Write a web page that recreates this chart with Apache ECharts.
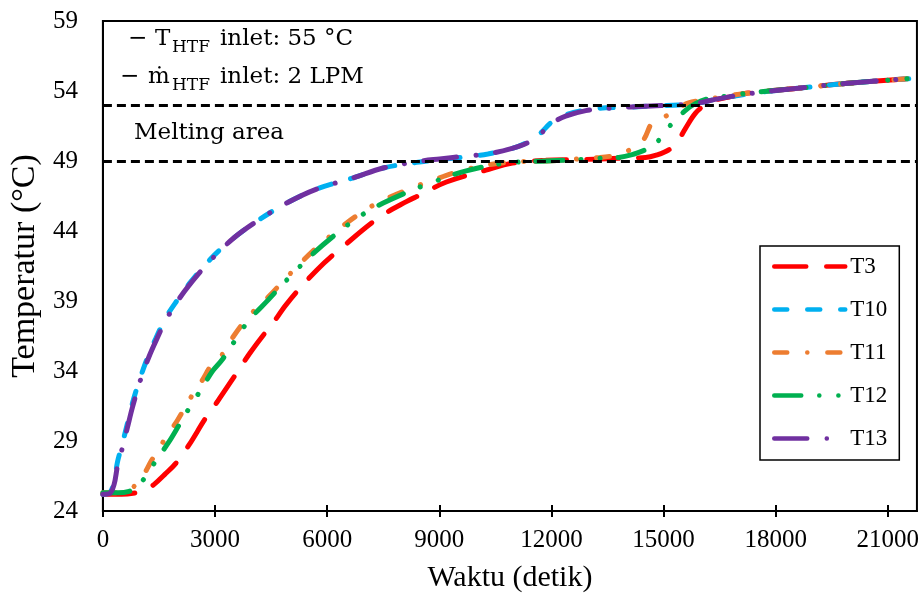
<!DOCTYPE html>
<html>
<head>
<meta charset="utf-8">
<script src="https://cdn.jsdelivr.net/npm/echarts@6/dist/echarts.min.js"></script>
<style>
  html, body { margin: 0; padding: 0; background: #fff; }
  #chart { width: 922px; height: 603px; }
</style>
</head>
<body>
<div id="chart"></div>
<script>
// Axis ticks
const xTicks = [0, 3000, 6000, 9000, 12000, 15000, 18000, 21000];
const yTicks = [24, 29, 34, 39, 44, 49, 54, 59];
// Lower / upper bound of the melting range (°C)
const meltingBounds = [53, 49];

// Thermocouple readings: time (s) and temperature (°C)
const t3Time = [0, 500, 880, 1100, 1370, 1650, 1950, 2300, 2740, 3060, 3540, 3940, 4260, 4520, 4920, 5720, 6520, 7410, 8120, 8470, 9190, 10250, 10960, 11850, 12740, 13890, 14520, 14780, 15140, 15400, 15580, 15850, 16110, 16380, 16800, 17270, 18600, 19930, 21650];
const t3Temp = [25.2, 25.2, 25.3, 25.45, 25.9, 26.6, 27.4, 28.7, 30.6, 31.8, 33.7, 35.3, 36.45, 37.3, 38.8, 41.2, 43.1, 45.0, 46.1, 46.55, 47.5, 48.35, 48.85, 49.05, 49.1, 49.2, 49.25, 49.4, 49.8, 50.5, 51.3, 52.4, 53.0, 53.35, 53.6, 53.85, 54.2, 54.55, 54.9];

const t10Time = [0, 180, 300, 390, 520, 660, 790, 1010, 1230, 1410, 1680, 2000, 2300, 2880, 3500, 4120, 4920, 5720, 6700, 7500, 8390, 9010, 9720, 10300, 10950, 11320, 11670, 12020, 12380, 12920, 13450, 14070, 14800, 15400, 15940, 16380, 17270, 18600, 19930, 21650];
const t10Temp = [25.2, 25.3, 26.1, 27.5, 28.8, 30.3, 31.7, 33.6, 35.2, 36.3, 37.8, 39.1, 40.2, 42.0, 43.5, 44.7, 46.0, 47.0, 47.8, 48.5, 48.9, 49.1, 49.3, 49.5, 49.9, 50.3, 50.9, 51.8, 52.3, 52.65, 52.8, 52.85, 52.95, 53.0, 53.15, 53.4, 53.8, 54.2, 54.55, 54.9];

const t11Time = [0, 400, 700, 830, 1050, 1300, 1700, 2000, 2350, 2650, 2900, 3200, 3500, 3900, 4430, 4920, 5630, 6340, 6960, 7500, 8300, 8740, 9720, 10790, 11850, 12740, 13300, 13600, 13890, 14160, 14470, 14690, 14960, 15300, 15670, 16200, 16600, 17270, 18600, 19930, 21650];
const t11Temp = [25.3, 25.3, 25.45, 25.75, 26.4, 27.6, 29.3, 30.5, 32.1, 33.3, 34.4, 35.2, 36.5, 37.9, 39.3, 40.7, 42.6, 44.2, 45.4, 46.2, 47.1, 47.55, 48.4, 48.9, 49.0, 49.15, 49.25, 49.35, 49.55, 49.9, 50.55, 51.7, 52.05, 52.6, 53.15, 53.4, 53.6, 53.85, 54.2, 54.55, 54.9];

const t12Time = [0, 400, 700, 900, 1100, 1370, 1770, 2030, 2390, 2660, 2920, 3190, 3540, 3900, 4430, 4920, 5630, 6340, 6960, 7500, 8300, 8740, 9720, 10790, 11850, 12740, 13270, 13800, 14160, 14520, 14690, 14960, 15230, 15580, 15850, 16200, 16600, 17270, 18600, 19930, 21650];
const t12Temp = [25.3, 25.3, 25.4, 25.7, 26.3, 27.4, 28.95, 30.1, 31.7, 32.8, 33.95, 34.8, 36.2, 37.6, 39.1, 40.5, 42.4, 44.0, 45.2, 46.0, 46.95, 47.4, 48.3, 48.85, 49.0, 49.1, 49.2, 49.25, 49.45, 49.8, 50.0, 50.75, 51.7, 52.6, 53.1, 53.45, 53.6, 53.85, 54.2, 54.55, 54.9];

const t13Time = [0, 180, 300, 390, 520, 660, 790, 1010, 1230, 1410, 1680, 2000, 2300, 2880, 3500, 4120, 4920, 5720, 6700, 7500, 8390, 9010, 9720, 10300, 10950, 11320, 11670, 12020, 12380, 12920, 13450, 14070, 14800, 15400, 15940, 16380, 17270, 18600, 19930, 21650];
const t13Temp = [25.2, 25.25, 25.9, 27.2, 28.5, 30.0, 31.4, 33.4, 35.0, 36.1, 37.6, 39.0, 40.1, 41.9, 43.5, 44.7, 46.0, 47.0, 47.8, 48.5, 48.95, 49.15, 49.35, 49.5, 49.9, 50.25, 50.85, 51.7, 52.2, 52.6, 52.75, 52.85, 52.95, 53.0, 53.15, 53.4, 53.8, 54.2, 54.55, 54.9];

const SERIF = 'Liberation Serif';
const NOTE_FONT = 'DejaVu Serif';

function pairs(ts, vs) { return ts.map((t, i) => [t, vs[i]]); }

function curve(name, color, dash, ts, vs) {
  return {
    name: name,
    type: 'line',
    data: pairs(ts, vs),
    symbol: 'none',
    showSymbol: false,
    smooth: 0.35,
    color: color,
    lineStyle: { color: color, width: 5, type: dash, cap: 'round' },
    emphasis: { disabled: true },
    silent: true
  };
}

function note(x, y, text, size) {
  return {
    type: 'text', x: x, y: y,
    style: { text: text, font: size + 'px "' + NOTE_FONT + '"', fill: '#000', align: 'left', verticalAlign: 'middle' }
  };
}

const chart = echarts.init(document.getElementById('chart'), null, { renderer: 'canvas' });

const xMax = 21780;

chart.setOption({
  animation: false,
  backgroundColor: '#fff',
  grid: {
    left: 102, right: 3, top: 21, bottom: 92,
    show: true, borderColor: '#000', borderWidth: 2, backgroundColor: 'transparent'
  },
  xAxis: [{
    type: 'value', min: 0, max: xMax,
    name: 'Waktu (detik)', nameLocation: 'middle', nameGap: 52,
    nameTextStyle: { fontFamily: SERIF, fontSize: 30, color: '#000' },
    axisLine: { show: true, lineStyle: { color: '#000', width: 2 } },
    axisTick: { show: true, length: 6, lineStyle: { color: '#000', width: 2 }, customValues: xTicks },
    axisLabel: { fontFamily: SERIF, fontSize: 25, color: '#000', margin: 17, customValues: xTicks, formatter: v => String(v) },
    splitLine: { show: false }
  }, {
    // inner half of the crossing x ticks
    type: 'value', min: 0, max: xMax, position: 'bottom',
    axisLine: { show: false },
    axisTick: { show: true, inside: true, length: 6, lineStyle: { color: '#000', width: 2 }, customValues: xTicks },
    axisLabel: { show: false },
    splitLine: { show: false }
  }],
  yAxis: {
    type: 'value', min: 24, max: 59,
    name: 'Temperatur (°C)', nameLocation: 'middle', nameGap: 56,
    nameTextStyle: { fontFamily: SERIF, fontSize: 34, color: '#000' },
    axisLine: { show: true, lineStyle: { color: '#000', width: 2 } },
    axisTick: { show: false, customValues: yTicks },
    axisLabel: { fontFamily: SERIF, fontSize: 25, color: '#000', margin: 25, customValues: yTicks },
    splitLine: { show: false }
  },
  legend: {
    orient: 'vertical', left: 760, top: 246,
    data: ['T3', 'T10', 'T11', 'T12', 'T13'],
    itemWidth: 71, itemHeight: 14, itemGap: 20,
    padding: [9, 12, 10, 12],
    backgroundColor: '#fff', borderColor: '#000', borderWidth: 1.5, borderRadius: 0,
    selectedMode: false,
    itemStyle: { opacity: 0 },
    lineStyle: { width: 4.5, cap: 'round' },
    textStyle: { fontFamily: SERIF, fontSize: 23, color: '#000' }
  },
  series: [
    curve('T3', '#FF0000', [32, 20], t3Time, t3Temp),
    curve('T10', '#00B0F0', [13, 20], t10Time, t10Temp),
    curve('T11', '#ED7D31', [13, 20, 0.1, 20], t11Time, t11Temp),
    curve('T12', '#00B050', [27, 18, 0.1, 19, 0.1, 18], t12Time, t12Temp),
    curve('T13', '#7030A0', [33, 19.5, 0.1, 19.5], t13Time, t13Temp),
    {
      name: 'melting',
      type: 'line',
      data: [],
      silent: true,
      markLine: {
        silent: true,
        symbol: ['none', 'none'],
        label: { show: false },
        lineStyle: { color: '#000', width: 3, type: [9, 5] },
        emphasis: { disabled: true },
        data: meltingBounds.map(v => ({ yAxis: v }))
      }
    }
  ],
  graphic: [
    note(128, 39, '−', 23),
    note(155, 39, 'T', 23),
    note(172, 47.5, 'HTF', 17),
    note(220, 39, 'inlet: 55 °C', 23),
    note(120, 77.5, '−', 23),
    note(148, 77.5, 'ṁ', 23),
    note(172, 85.5, 'HTF', 17),
    note(220, 77.5, 'inlet: 2 LPM', 23),
    note(134, 133, 'Melting area', 23)
  ]
});
</script>
</body>
</html>
